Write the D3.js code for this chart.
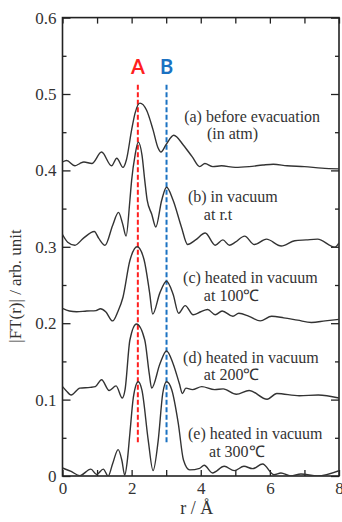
<!DOCTYPE html>
<html lang="en">
<head>
<meta charset="UTF-8">
<title>|FT(r)| curves</title>
<style>
  body { margin: 0; background: #fff; }
  svg { display: block; }
  .tick text { font-family: "Liberation Serif", "Times New Roman", serif; font-size: 17px; fill: #333; }
  .tick line { stroke: #222; stroke-width: 1.3; }
  .lbl { font-family: "Liberation Serif", "Times New Roman", serif; font-size: 16px; fill: #333; }
  .mark { font-family: Lato, "Noto Sans", sans-serif; font-weight: bold; font-size: 20px; }
</style>
</head>
<body>
<svg id="chart"></svg>
<script src="https://d3js.org/d3.v7.min.js"></script>
<script>
// curves: [r (Å), |FT(r)| offset value]
const curveA = [[0,0.411],[0.12,0.413],[0.36,0.406],[0.5,0.409],[0.62,0.411],[0.85,0.409],[1.13,0.424],[1.42,0.406],[1.57,0.416],[1.75,0.404],[1.85,0.414],[2.0,0.453],[2.1,0.475],[2.24,0.488],[2.43,0.479],[2.62,0.453],[2.76,0.430],[2.85,0.424],[3.0,0.434],[3.22,0.446],[3.5,0.433],[3.75,0.418],[3.97,0.405],[4.12,0.409],[4.35,0.405],[4.6,0.406],[5.0,0.404],[5.4,0.405],[5.8,0.407],[6.1,0.408],[6.5,0.406],[7.0,0.405],[7.5,0.403],[8.0,0.402]];
const curveB = [[0,0.316],[0.15,0.306],[0.36,0.302],[0.6,0.311],[0.92,0.320],[1.05,0.311],[1.23,0.302],[1.45,0.328],[1.62,0.345],[1.74,0.330],[1.84,0.314],[1.95,0.361],[2.0,0.387],[2.1,0.420],[2.19,0.437],[2.3,0.420],[2.38,0.387],[2.45,0.361],[2.58,0.343],[2.7,0.326],[2.87,0.361],[3.01,0.378],[3.2,0.361],[3.44,0.326],[3.62,0.303],[3.85,0.309],[4.13,0.318],[4.42,0.302],[4.64,0.309],[4.83,0.302],[5.0,0.306],[5.27,0.314],[5.55,0.303],[5.9,0.310],[6.33,0.301],[6.72,0.308],[7.05,0.309],[7.38,0.310],[7.88,0.2995],[8.0,0.305]];
const curveC = [[0,0.2195],[0.2,0.216],[0.41,0.215],[0.7,0.216],[0.97,0.2165],[1.1,0.219],[1.25,0.215],[1.45,0.203],[1.6,0.215],[1.75,0.234],[1.95,0.282],[2.16,0.300],[2.36,0.283],[2.52,0.240],[2.61,0.212],[2.82,0.240],[3.01,0.255],[3.2,0.238],[3.36,0.213],[3.55,0.223],[3.78,0.211],[4.0,0.215],[4.2,0.218],[4.42,0.211],[4.62,0.216],[4.93,0.209],[5.1,0.213],[5.4,0.209],[5.72,0.203],[6.05,0.209],[6.4,0.207],[6.8,0.204],[7.2,0.201],[7.6,0.203],[8.0,0.205]];
const curveD = [[0,0.117],[0.1,0.112],[0.25,0.106],[0.5,0.115],[0.8,0.116],[0.95,0.117],[1.13,0.126],[1.35,0.112],[1.55,0.118],[1.73,0.102],[1.81,0.113],[1.95,0.178],[2.14,0.199],[2.38,0.178],[2.51,0.134],[2.58,0.115],[2.82,0.147],[3.01,0.1636],[3.2,0.147],[3.38,0.121],[3.47,0.108],[3.57,0.115],[3.76,0.113],[4.03,0.117],[4.4,0.113],[4.65,0.114],[5.03,0.107],[5.4,0.112],[5.92,0.1005],[6.2,0.108],[6.85,0.105],[7.4,0.106],[8.0,0.102]];
const curveE = [[0,0.0105],[0.25,0.006],[0.5,0.0005],[0.82,0.009],[0.99,0.002],[1.18,0.009],[1.32,0.0],[1.45,0.016],[1.61,0.0345],[1.72,0.02],[1.8,0.001],[1.87,0.018],[1.95,0.056],[2.05,0.103],[2.19,0.1234],[2.3,0.112],[2.48,0.047],[2.62,0.007],[2.77,0.047],[2.9,0.108],[3.01,0.1234],[3.16,0.113],[3.35,0.069],[3.5,0.021],[3.68,0.008],[3.97,0.010],[4.1,0.014],[4.34,0.004],[4.68,0.0127],[4.97,0.007],[5.25,0.0127],[5.5,0.0096],[5.79,0.0157],[6.12,0.0017],[6.32,0.004],[6.6,0.0],[6.9,0.0026],[7.38,0.0],[8.0,0.007]];

const curveLabels = [
  ["(a) before evacuation", "(in atm)"],
  ["(b) in vacuum", "at r.t"],
  ["(c) heated in vacuum", "at 100℃"],
  ["(d) heated in vacuum", "at 200℃"],
  ["(e) heated in vacuum", "at 300℃"]
];
// where each label sits, in data units
const labelR1 = [3.52, 3.63, 3.49, 3.49, 3.63];
const labelR2 = [4.18, 4.09, 4.09, 4.09, 4.24];
const labelV = [0.464, 0.358, 0.252, 0.148, 0.048];

const peakNames = ["A", "B"];
const peakR = [2.18, 3.01];
const peakColors = ["#ff1f1f", "#1b72c2"];
const peakTop = 0.512, peakBottom = 0.043;

const xTicks = [0, 1, 2, 3, 4, 5, 6, 7, 8];
const yTicks = [0, 0.1, 0.2, 0.3, 0.4, 0.5, 0.6];
const yMinor = [0.05, 0.15, 0.25, 0.35, 0.45, 0.55];

const W = 342, H = 522;
const margin = {top: 17.6, right: 3, bottom: 46, left: 62.5};

const svg = d3.select("#chart").attr("width", W).attr("height", H);
svg.append("rect").attr("width", W).attr("height", H).attr("fill", "#fff");

const x = d3.scaleLinear().domain([0, 8]).range([margin.left, W - margin.right]);
const y = d3.scaleLinear().domain([0, 0.6]).range([H - margin.bottom, margin.top]);

svg.append("clipPath").attr("id", "plot")
  .append("rect")
  .attr("x", x(0)).attr("y", y(0.6))
  .attr("width", x(8) - x(0)).attr("height", y(0) - y(0.6));

// axes, ticks pointing inward
function clean(g) { g.select(".domain").remove(); }

svg.append("g").attr("transform", "translate(" + x(0) + ",0)")
  .call(d3.axisLeft(y).tickValues(yTicks).tickSize(-8).tickPadding(6)
    .tickFormat(d => d === 0 ? "0" : d3.format(".1f")(d)))
  .call(clean);
svg.append("g").attr("transform", "translate(" + x(0) + ",0)")
  .call(d3.axisLeft(y).tickValues(yMinor).tickSize(-4).tickFormat(""))
  .call(clean);
svg.append("g").attr("transform", "translate(" + x(8) + ",0)")
  .call(d3.axisRight(y).tickValues(yTicks).tickSize(-8).tickFormat(""))
  .call(clean);
svg.append("g").attr("transform", "translate(" + x(8) + ",0)")
  .call(d3.axisRight(y).tickValues(yMinor).tickSize(-4).tickFormat(""))
  .call(clean);

svg.append("g").attr("transform", "translate(0," + y(0) + ")")
  .call(d3.axisBottom(x).tickValues(xTicks).tickSize(-6).tickPadding(6)
    .tickFormat(d => d % 2 === 0 ? d : ""))
  .call(clean);
svg.append("g").attr("transform", "translate(0," + y(0.6) + ")")
  .call(d3.axisTop(x).tickValues(xTicks).tickSize(-6).tickFormat(""))
  .call(clean);

// frame
svg.append("rect")
  .attr("x", x(0)).attr("y", y(0.6))
  .attr("width", x(8) - x(0)).attr("height", y(0) - y(0.6))
  .attr("fill", "none").attr("stroke", "#222").attr("stroke-width", 1.6);

// dashed peak markers
peakR.forEach((r, i) => {
  svg.append("line")
    .attr("x1", x(r)).attr("x2", x(r))
    .attr("y1", y(peakTop)).attr("y2", y(peakBottom))
    .attr("stroke", peakColors[i]).attr("stroke-width", 2)
    .attr("stroke-dasharray", "5,2.5");
  svg.append("text").attr("class", "mark")
    .attr("x", x(r)).attr("y", y(peakTop) - 11)
    .attr("text-anchor", "middle")
    .attr("fill", peakColors[i])
    .text(peakNames[i]);
});

// curves
const line = d3.line()
  .x(d => x(d[0]))
  .y(d => y(d[1]))
  .curve(d3.curveMonotoneX);

const curves = [curveA, curveB, curveC, curveD, curveE];
svg.append("g").attr("clip-path", "url(#plot)")
  .selectAll("path")
  .data(curves)
  .join("path")
  .attr("d", line)
  .attr("fill", "none")
  .attr("stroke", "#333")
  .attr("stroke-width", 1.4);

// curve labels
curveLabels.forEach((lines, i) => {
  svg.append("text").attr("class", "lbl")
    .attr("x", x(labelR1[i])).attr("y", y(labelV[i]))
    .text(lines[0]);
  svg.append("text").attr("class", "lbl")
    .attr("x", x(labelR2[i])).attr("y", y(labelV[i]) + 17.5)
    .text(lines[1]);
});

// axis titles
svg.append("text").attr("class", "lbl")
  .attr("x", (x(0) + x(8)) / 2 - 4).attr("y", 514)
  .attr("text-anchor", "middle")
  .style("font-size", "18px")
  .text("r / Å");

svg.append("text").attr("class", "lbl")
  .attr("transform", "translate(21,286) rotate(-90)")
  .attr("text-anchor", "middle")
  .style("font-size", "17px")
  .text("|FT(r)| / arb. unit");
</script>
</body>
</html>
